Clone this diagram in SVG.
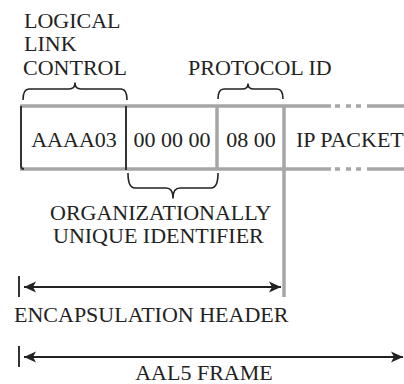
<svg xmlns="http://www.w3.org/2000/svg" width="404" height="384" viewBox="0 0 404 384">
  <style>
    text { font-family: Liberation Serif, Times New Roman, Tinos, Noto Serif, DejaVu Serif, serif; font-size: 22px; fill: #222; }
    .mid { text-anchor: middle; }
    .dark { stroke: #333; stroke-width: 2; fill: none; }
    .gray { stroke: #a6a6a6; stroke-width: 3.5; fill: none; }
    .brace { stroke: #222; stroke-width: 1.6; fill: none; stroke-linejoin: round; }
    .dim { stroke: #222; stroke-width: 1.8; fill: none; }
    .tick { stroke: #333; stroke-width: 2; }
  </style>
  <defs>
    <marker id="arrow" markerUnits="userSpaceOnUse" markerWidth="14" markerHeight="12" viewBox="0 -6 14 12" refX="12" refY="0" orient="auto-start-reverse">
      <path d="M12,0 L0,-5.5 L3,0 L0,5.5 Z" fill="#222"/>
    </marker>
  </defs>

  <!-- frame outline: top and bottom rails with dotted continuation -->
  <g id="frame">
    <path class="gray" d="M20,106 H331 M335,106 H340 M346,106 H351 M356,106 H361 M367,106 H404"/>
    <path class="gray" d="M20,169 H331 M335,169 H340 M346,169 H351 M356,169 H361 M367,169 H404"/>
  </g>

  <g id="llc-field">
    <path class="dark" d="M21,106 V166 Q21,169 24,169"/>
    <line class="dark" x1="126" y1="106" x2="126" y2="170"/>
    <text class="mid" x="74" y="147">AAAA03</text>
  </g>

  <g id="oui-field">
    <line class="gray" x1="217" y1="106" x2="217" y2="170"/>
    <text class="mid" x="172" y="147">00 00 00</text>
  </g>

  <g id="pid-field">
    <line class="gray" x1="284" y1="106" x2="284" y2="297"/>
    <text class="mid" x="251" y="147">08 00</text>
  </g>

  <g id="ip-packet">
    <text x="296" y="147">IP PACKET</text>
  </g>

  <g id="llc-label">
    <text x="24" y="28">LOGICAL</text>
    <text x="24" y="51">LINK</text>
    <text x="23" y="75">CONTROL</text>
    <path class="brace" d="M23,100 Q23,89 29,89 H69 Q75,89 75,83 Q75,89 81,89 H121 Q127,89 127,100"/>
  </g>

  <g id="pid-label">
    <text x="188" y="75">PROTOCOL ID</text>
    <path class="brace" d="M218,99 Q218,89 224,89 H242 Q248,89 248,84 Q248,89 254,89 H277 Q283,89 283,99"/>
  </g>

  <g id="oui-label">
    <path class="brace" d="M128,173 Q128,188 135,188 H166 Q173,188 173,198 Q173,188 180,188 H211 Q218,188 218,173"/>
    <text x="50" y="220">ORGANIZATIONALLY</text>
    <text x="53" y="243">UNIQUE IDENTIFIER</text>
  </g>

  <!-- dimension connectors -->
  <g id="connectors">
    <line class="tick" x1="19" y1="276" x2="19" y2="297"/>
    <line class="dim" x1="24" y1="287" x2="281" y2="287" marker-start="url(#arrow)" marker-end="url(#arrow)"/>
    <line class="tick" x1="19" y1="346" x2="19" y2="367"/>
    <line class="dim" x1="24" y1="357" x2="403" y2="357" marker-start="url(#arrow)" marker-end="url(#arrow)"/>
  </g>

  <g id="dimension-labels">
    <text x="14" y="322">ENCAPSULATION HEADER</text>
    <text class="mid" x="204" y="380">AAL5 FRAME</text>
  </g>
</svg>
